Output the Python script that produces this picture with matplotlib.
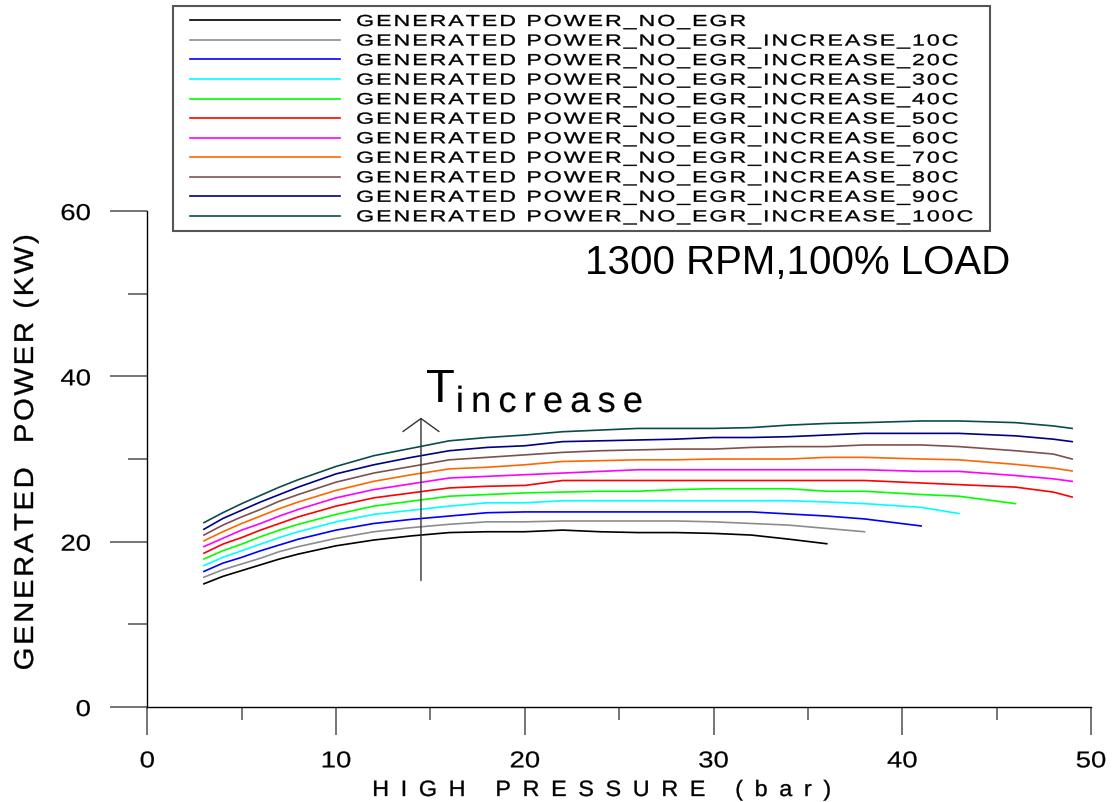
import numpy as np
import matplotlib
matplotlib.use('Agg')
import matplotlib.pyplot as plt
from matplotlib import patheffects
from matplotlib.font_manager import findfont, get_font
from matplotlib.patches import Rectangle
from matplotlib.textpath import TextPath
from matplotlib.transforms import Affine2D

plt.rcParams['font.family'] = ['Liberation Sans', 'DejaVu Sans']

# high pressure (bar) sample points shared by all runs; shorter runs stop early
pressure = [3, 4, 5, 6, 7, 8, 10, 12, 14, 16, 18, 20, 22, 24, 26, 28,
            30, 32, 34, 36, 38, 41, 43, 46, 48, 49]

labels = ['GENERATED POWER_NO_EGR',
          'GENERATED POWER_NO_EGR_INCREASE_10C',
          'GENERATED POWER_NO_EGR_INCREASE_20C',
          'GENERATED POWER_NO_EGR_INCREASE_30C',
          'GENERATED POWER_NO_EGR_INCREASE_40C',
          'GENERATED POWER_NO_EGR_INCREASE_50C',
          'GENERATED POWER_NO_EGR_INCREASE_60C',
          'GENERATED POWER_NO_EGR_INCREASE_70C',
          'GENERATED POWER_NO_EGR_INCREASE_80C',
          'GENERATED POWER_NO_EGR_INCREASE_90C',
          'GENERATED POWER_NO_EGR_INCREASE_100C']

colors = ['#000000', '#8c8c8c', '#0000ff', '#00ffff', '#00ff00', '#ff0000',
          '#ff00ff', '#ff6600', '#7f5050', '#000080', '#0b4c4c']

# generated power (kW)
power_base = [14.9, 15.8, 16.5, 17.2, 17.9, 18.5, 19.5, 20.2, 20.7, 21.1, 21.2, 21.2, 21.4,
              21.2, 21.1, 21.1, 21.0, 20.8, 20.3, 19.75]
power_10c = [15.7, 16.6, 17.3, 18.0, 18.8, 19.4, 20.4, 21.2, 21.7, 22.1, 22.4, 22.4, 22.5,
             22.5, 22.5, 22.5, 22.4, 22.2, 22.0, 21.6, 21.2]
power_20c = [16.4, 17.4, 18.1, 18.9, 19.6, 20.3, 21.4, 22.2, 22.7, 23.1, 23.5, 23.6, 23.6,
             23.6, 23.6, 23.6, 23.6, 23.6, 23.35, 23.1, 22.75, 21.9]
power_30c = [17.1, 18.1, 18.9, 19.7, 20.5, 21.2, 22.4, 23.3, 23.8, 24.3, 24.7, 24.7, 24.95,
             24.95, 24.95, 24.95, 24.95, 24.95, 24.95, 24.8, 24.6, 24.15, 23.4]
power_40c = [17.9, 18.9, 19.7, 20.6, 21.4, 22.1, 23.3, 24.3, 24.9, 25.5, 25.7, 25.9, 26.0,
             26.1, 26.1, 26.3, 26.4, 26.4, 26.4, 26.1, 26.1, 25.7, 25.5, 24.6]
power_50c = [18.6, 19.7, 20.5, 21.4, 22.2, 23.0, 24.3, 25.3, 25.9, 26.5, 26.7, 26.8, 27.4,
             27.4, 27.4, 27.4, 27.4, 27.4, 27.4, 27.4, 27.4, 27.1, 26.9, 26.6, 26.0, 25.4]
power_60c = [19.4, 20.4, 21.4, 22.2, 23.1, 23.9, 25.3, 26.3, 27.0, 27.7, 27.9, 28.1, 28.3,
             28.5, 28.7, 28.7, 28.7, 28.7, 28.7, 28.7, 28.7, 28.5, 28.5, 28.0, 27.6, 27.3]
power_70c = [20.1, 21.2, 22.2, 23.1, 24.0, 24.8, 26.2, 27.3, 28.1, 28.8, 29.0, 29.3, 29.7,
             29.8, 29.9, 29.9, 30.0, 30.0, 30.0, 30.2, 30.2, 30.0, 29.9, 29.35, 28.9, 28.55]
power_80c = [20.8, 22.0, 23.0, 23.9, 24.9, 25.7, 27.2, 28.3, 29.1, 29.9, 30.2, 30.5, 30.8,
             31.0, 31.1, 31.2, 31.2, 31.4, 31.5, 31.5, 31.7, 31.7, 31.5, 31.0, 30.6, 30.0]
power_90c = [21.5, 22.8, 23.8, 24.8, 25.7, 26.6, 28.2, 29.3, 30.2, 31.0, 31.4, 31.6, 32.1,
             32.2, 32.3, 32.4, 32.6, 32.6, 32.7, 32.9, 33.1, 33.1, 33.1, 32.8, 32.4, 32.1]
power_100c = [22.3, 23.5, 24.6, 25.6, 26.6, 27.5, 29.1, 30.4, 31.3, 32.2, 32.6, 32.9, 33.3,
              33.5, 33.7, 33.7, 33.7, 33.8, 34.1, 34.3, 34.4, 34.6, 34.6, 34.4, 34.0, 33.7]

series = [power_base, power_10c, power_20c, power_30c, power_40c, power_50c,
          power_60c, power_70c, power_80c, power_90c, power_100c]

x_ticks = [0, 10, 20, 30, 40, 50]
y_ticks = [0, 20, 40, 60]


class Tracked(patheffects.AbstractPathEffect):
    """Redraw a text glyph by glyph, widened by sx and spaced by track (em)."""

    def __init__(self, artist, sx=1.0, track=0.0, anchor=0.0, stroke=0.25):
        super().__init__()
        self.artist = artist
        self.sx, self.track, self.anchor, self.stroke = sx, track, anchor, stroke

    def draw_path(self, renderer, gc, tpath, affine, rgbFace=None):
        prop = self.artist.get_fontproperties()
        s = self.artist.get_text()
        font = get_font(findfont(prop))
        font.set_size(100, 72)
        adv = [font.load_char(ord(c)).linearHoriAdvance / 65536 for c in s]
        natural = sum(adv)
        step = self.track * 100
        wide = self.sx * (natural + step * (len(s) - 1))
        x0 = -(wide - natural) * self.anchor
        gc0 = renderer.new_gc()
        gc0.copy_properties(gc)
        gc0.set_snap(False)
        gc0.set_linewidth(self.stroke)
        gc0.set_foreground(rgbFace)
        x = 0.0
        for c, a in zip(s, adv):
            if not c.isspace():
                glyph = TextPath((0, 0), c, size=100, prop=prop)
                t = Affine2D().scale(self.sx, 1).translate(self.sx * x + x0, 0) + affine
                renderer.draw_path(gc0, glyph, t, rgbFace)
            x += a + step
        gc0.restore()


W, H = 1112, 803
fig = plt.figure(figsize=(W / 100, H / 100), dpi=100)
ax = fig.add_axes([147.3 / W, 1 - 708 / H, 943.7 / W, 496 / H])

handles = []
for ys, c, lab in zip(series, colors, labels):
    line, = ax.plot(pressure[:len(ys)], ys, color=c, lw=1.2, label=lab)
    handles.append(line)

ax.set_xlim(0, 50)
ax.set_ylim(0, 60)
ax.spines['top'].set_visible(False)
ax.spines['right'].set_visible(False)
for sp in ('left', 'bottom'):
    ax.spines[sp].set_linewidth(1.0)
    ax.spines[sp].set_clip_on(False)

ax.set_xticks(x_ticks, [str(v) for v in x_ticks])
ax.set_xticks(np.arange(5, 50, 10), minor=True)
ax.set_yticks(y_ticks, [str(v) for v in y_ticks])
ax.set_yticks([10, 30, 50], minor=True)
ax.tick_params(axis='x', which='major', length=20.5, width=1.1, color='#505050',
               pad=10.0, labelsize=16.5)
ax.tick_params(axis='x', which='minor', length=9.5, width=1.1, color='#505050')
ax.tick_params(axis='y', which='major', length=26.6, width=1.1, color='#505050',
               pad=14.0, labelsize=16.5)
ax.tick_params(axis='y', which='minor', length=13.7, width=1.1, color='#505050')

ax.set_xlabel('HIGH PRESSURE (bar)', fontsize=16)
ax.xaxis.set_label_coords((602 - 147.3) / 943.7, (708 - 781) / 496)
ax.set_ylabel('GENERATED  POWER (KW)', fontsize=19.5)
ax.yaxis.set_label_coords((39 - 147.3) / 943.7, (708 - 454) / 496)

# temperature increase marker
ax.annotate('', xy=(14.5, 35.0), xytext=(14.5, 15.3),
            arrowprops=dict(arrowstyle='->,head_length=0.47,head_width=0.65',
                            lw=1.0, color='#333333', shrinkA=0, shrinkB=0,
                            mutation_scale=20))
ax.text(14.75, 37.0, 'T', fontsize=34, ha='left', va='baseline')
inc = ax.text(16.35, 35.7, 'increase', fontsize=26, ha='left', va='baseline')
inc.set_path_effects([Tracked(inc, sx=1.0, track=0.2, stroke=0.15)])

fig.text(798 / W, 1 - 263 / H, '1300 RPM,100% LOAD', fontsize=29,
         ha='center', va='center')

# legend box at the top
fig.patches.append(Rectangle((173 / W, 1 - 232 / H), 817 / W, 225 / H,
                             transform=fig.transFigure, fill=False,
                             edgecolor='#555555', lw=1.5))
leg = ax.legend(handles=handles, loc='upper left',
                bbox_to_anchor=(190 / W, 1 - 15 / H), bbox_transform=fig.transFigure,
                frameon=False, fontsize=11.5, handlelength=9.4, handletextpad=1.0,
                labelspacing=0.275, borderpad=0, borderaxespad=0)
for t in leg.get_texts():
    t.set_path_effects([Tracked(t, sx=1.45, track=0.085)])

fig.canvas.draw()
for t in ax.get_xticklabels():
    t.set_path_effects([Tracked(t, sx=1.2, anchor=0.5, stroke=0.15)])
for t in ax.get_yticklabels():
    t.set_path_effects([Tracked(t, sx=1.2, anchor=1.0, stroke=0.15)])
xl = ax.xaxis.label
xl.set_path_effects([Tracked(xl, sx=1.05, track=0.5, anchor=0.5)])
yl = ax.yaxis.label
yl.set_path_effects([Tracked(yl, sx=1.08, track=0.09, anchor=0.5)])

fig.savefig('out.png', dpi=100)
